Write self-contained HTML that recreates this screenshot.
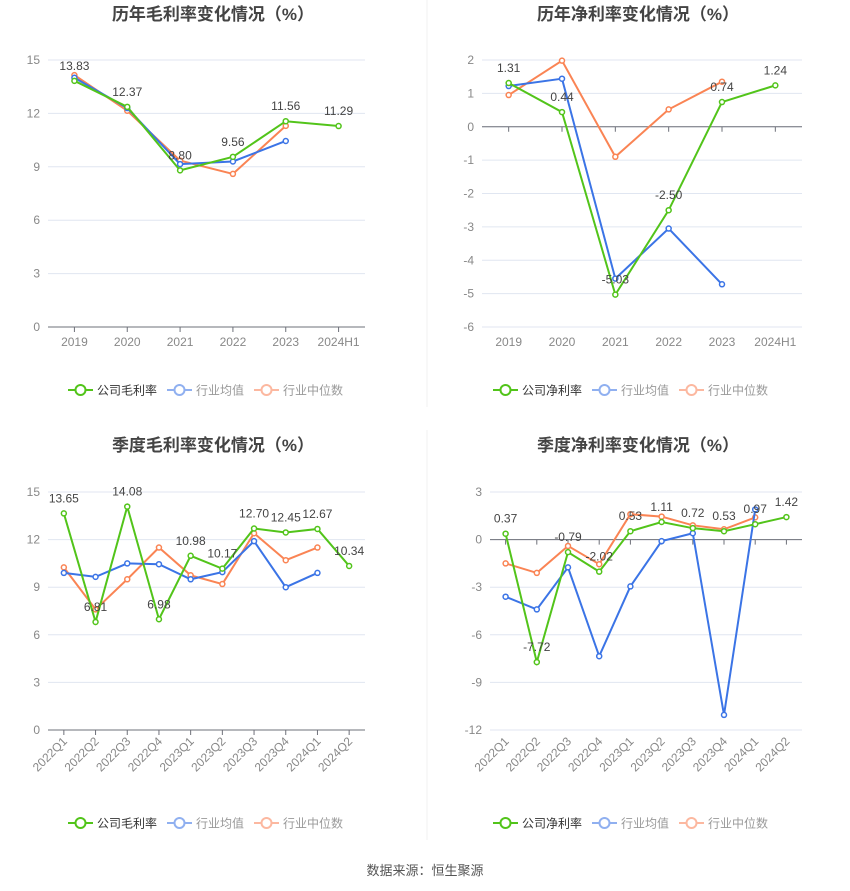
<!DOCTYPE html>
<html><head><meta charset="utf-8"><style>
body{margin:0;background:#fff;width:850px;height:891px;overflow:hidden;font-family:"Liberation Sans","Noto Sans CJK SC",sans-serif}
svg{position:absolute;left:0;top:0}
</style></head><body>
<svg id="s" width="850" height="891" xmlns="http://www.w3.org/2000/svg"></svg>
<script>
const annualCats=['2019','2020','2021','2022','2023','2024H1'];
const quarterCats=['2022Q1','2022Q2','2022Q3','2022Q4','2023Q1','2023Q2','2023Q3','2023Q4','2024Q1','2024Q2'];
const gmCompany=[13.83,12.37,8.80,9.56,11.56,11.29];
const gmMean=[14.0,12.3,9.15,9.3,10.45,null];
const gmMedian=[14.15,12.15,9.35,8.6,11.3,null];
const nmCompany=[1.31,0.44,-5.03,-2.50,0.74,1.24];
const nmMean=[1.22,1.44,-4.55,-3.05,-4.72,null];
const nmMedian=[0.95,1.98,-0.9,0.52,1.35,null];
const qgmCompany=[13.65,6.81,14.08,6.98,10.98,10.17,12.70,12.45,12.67,10.34];
const qgmMean=[9.9,9.65,10.5,10.45,9.5,9.95,11.9,9.0,9.9,null];
const qgmMedian=[10.25,7.6,9.5,11.5,9.75,9.2,12.4,10.7,11.5,null];
const qnmCompany=[0.37,-7.72,-0.79,-2.02,0.53,1.11,0.72,0.53,0.97,1.42];
const qnmMean=[-3.6,-4.4,-1.75,-7.35,-2.95,-0.1,0.4,-11.05,1.9,null];
const qnmMedian=[-1.5,-2.1,-0.4,-1.55,1.6,1.45,0.9,0.65,1.4,null];
const gmTicks=[0,3,6,9,12,15];
const nmTicks=[-6,-5,-4,-3,-2,-1,0,1,2];
const qnmTicks=[-12,-9,-6,-3,0,3];

const S=document.getElementById('s');const NS='http://www.w3.org/2000/svg';
function el(t,a,p){const e=document.createElementNS(NS,t);for(const k in a)e.setAttribute(k,a[k]);(p||S).appendChild(e);return e;}
const C={g:'#52c41a',b:'#3b74e6',o:'#fa8454'};

function chart(o){
  const g=el('g',{});
  
  
  const t=el('text',{x:o.cx,y:o.ty,'text-anchor':'middle','font-size':17,'font-weight':'bold',fill:'#444'},g);
  t.textContent=o.title;
  
  
  const ymin=o.ticks[0],ymax=o.ticks[o.ticks.length-1];
  const y=v=>o.y0+(ymax-v)/(ymax-ymin)*(o.y1-o.y0);
  const bw=(o.x1-o.x0)/o.cats.length;
  const x=i=>o.x0+bw*(i+0.5);
  o.ticks.forEach(v=>{
    if(v!==0||ymin===0&&false){}
    const gl=el('line',{x1:o.x0,x2:o.x1,y1:y(v),y2:y(v),stroke:'#e0e6f1','stroke-width':1},g);
    
    
    const tl=el('text',{x:o.x0-8,y:y(v)+4,'text-anchor':'end','font-size':12,fill:'#888'},g);
    tl.textContent=v;
    
    
  });
  const ya=y(Math.max(0,ymin));
  const ax=el('line',{x1:o.x0,x2:o.x1,y1:ya,y2:ya,stroke:'#6e7079','stroke-width':1},g);
  
  
  o.cats.forEach((c,i)=>{
    el('line',{x1:x(i),x2:x(i),y1:ya,y2:ya+5,stroke:'#6e7079'},g);
    const xt=el('text',{'font-size':12,fill:'#888'},g);
    xt.textContent=c;
    
    
    if(o.rot){xt.setAttribute('text-anchor','end');xt.setAttribute('transform',`translate(${x(i)+4},${o.y1+12}) rotate(-45)`);}
    else{xt.setAttribute('x',x(i));xt.setAttribute('y',o.y1+19);xt.setAttribute('text-anchor','middle');}
  });
  const series=[[o.med,C.o,'median-line'],[o.mean,C.b,'mean-line'],[o.comp,C.g,'company-line']];
  series.forEach(([d,col,nm])=>{
    let pts=[];d.forEach((v,i)=>{if(v!==null)pts.push(x(i)+','+y(v));});
    const pl=el('polyline',{points:pts.join(' '),fill:'none',stroke:col,'stroke-width':2},g);
    
    
    d.forEach((v,i)=>{if(v===null)return;
      const c=el('circle',{cx:x(i),cy:y(v),r:2.5,fill:'#fff',stroke:col,'stroke-width':1.5},g);
      
      
    });
  });
  o.comp.forEach((v,i)=>{
    const l=el('text',{x:x(i),y:y(v)-11,'text-anchor':'middle','font-size':12,fill:'#444'},g);
    l.textContent=v.toFixed(2);
    
    
  });
  // legend
  const lx=o.cx-145, ly=o.ly;
  const items=[[o.lg,C.g,'#333'],['行业均值','#90b0f0','#999'],['行业中位数','#fcb8a0','#999']];
  let cx=lx;
  items.forEach(([txt,col,tc],k)=>{
    const lg=el('g',{},g);
    
    
    el('line',{x1:cx,x2:cx+25,y1:ly,y2:ly,stroke:col,'stroke-width':2},lg);
    el('circle',{cx:cx+12.5,cy:ly,r:5,fill:'#fff',stroke:col,'stroke-width':2},lg);
    const tt=el('text',{x:cx+29,y:ly+4.5,'font-size':12,fill:tc},lg);
    tt.textContent=txt;
    cx+=29+txt.length*12+10;
  });
}
chart({name:'annual-gross-margin-chart',title:'历年毛利率变化情况（%）',cx:213,ty:20,ly:390,x0:48,x1:365,y0:60,y1:327,cats:annualCats,ticks:gmTicks,comp:gmCompany,mean:gmMean,med:gmMedian,lg:'公司毛利率'});
chart({name:'annual-net-margin-chart',title:'历年净利率变化情况（%）',cx:638,ty:20,ly:390,x0:482,x1:802,y0:60,y1:327,cats:annualCats,ticks:nmTicks,comp:nmCompany,mean:nmMean,med:nmMedian,lg:'公司净利率'});
chart({name:'quarterly-gross-margin-chart',title:'季度毛利率变化情况（%）',cx:213,ty:451,ly:823,x0:48,x1:365,y0:492,y1:730,cats:quarterCats,ticks:gmTicks,comp:qgmCompany,mean:qgmMean,med:qgmMedian,lg:'公司毛利率',rot:true});
chart({name:'quarterly-net-margin-chart',title:'季度净利率变化情况（%）',cx:638,ty:451,ly:823,x0:490,x1:802,y0:492,y1:730,cats:quarterCats,ticks:qnmTicks,comp:qnmCompany,mean:qnmMean,med:qnmMedian,lg:'公司净利率',rot:true});
let d1=el('line',{x1:427,x2:427,y1:0,y2:407,stroke:'#f0f0f0'});


let d2=el('line',{x1:427,x2:427,y1:430,y2:840,stroke:'#f0f0f0'});


const ft=el('text',{x:425,y:875,'text-anchor':'middle','font-size':13,fill:'#555'});
ft.textContent='数据来源：恒生聚源';


</script>
</body></html>
